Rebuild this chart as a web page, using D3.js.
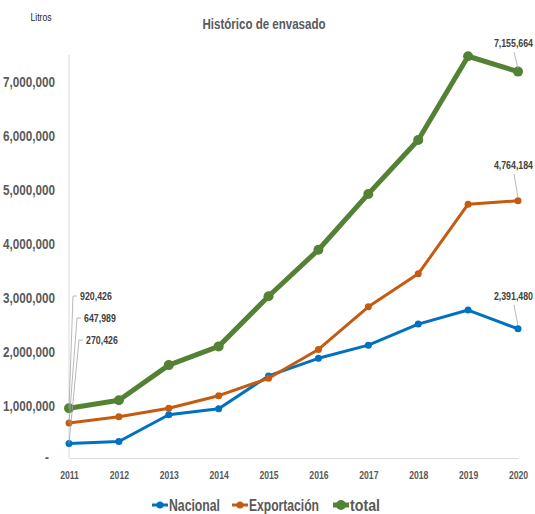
<!DOCTYPE html>
<head>
    <meta charset="utf-8">
    <title>Histórico de envasado</title>
    <script src="https://cdn.jsdelivr.net/npm/d3@7"></script>
    <style>
        body { margin: 0; background: #fff; }
        svg { display: block; font-family: "Liberation Sans", Arial, sans-serif; }
        .tick text { fill: #595959; font-weight: bold; }
    </style>
</head>
<body>
    <svg id="chart"></svg>
    <script>
        // data
        let years = [2011, 2012, 2013, 2014, 2015, 2016, 2017, 2018, 2019, 2020];
        let nacional = [270426, 305000, 800000, 913000, 1520000, 1846000, 2090000, 2480000, 2740000, 2391480];
        let exportacion = [647989, 765000, 920000, 1154000, 1476000, 2010000, 2800000, 3410000, 4700000, 4764184];
        let total = [920426, 1070000, 1720000, 2067000, 2996000, 3856000, 4890000, 5890000, 7440000, 7155664];
        let yTicks = [0, 1000000, 2000000, 3000000, 4000000, 5000000, 6000000, 7000000];

        let W = 535, H = 514;
        let svg = d3.select("#chart").attr("width", W).attr("height", H);

        let x = d3.scalePoint().domain(years).range([69, 518]);
        let y = d3.scaleLinear().domain([0, 7000000]).range([458, 80]);

        let fmt = d3.format(",");

        // narrow the Arial-like glyphs to the width of the original condensed font
        function squeeze(sel, k) {
            sel.each(function() {
                let w = this.getComputedTextLength();
                d3.select(this).attr("textLength", w * k).attr("lengthAdjust", "spacingAndGlyphs");
            });
        }

        // axes
        let yAxis = svg.append("g")
            .attr("transform", "translate(69,0)")
            .call(d3.axisLeft(y).tickValues(yTicks).tickSize(0).tickPadding(14)
                .tickFormat(d => d === 0 ? "-" : fmt(d)));
        yAxis.select(".domain").remove();
        yAxis.selectAll("text").style("font-size", "15px").attr("dy", "0.4em");
        yAxis.selectAll(".tick").filter(d => d === 0).select("text").attr("x", -20).attr("dy", "0.2em");
        squeeze(yAxis.selectAll("text"), 0.78);
        svg.append("line")
            .attr("x1", 69).attr("x2", 69).attr("y1", 55).attr("y2", 458)
            .style("stroke", "#d9d9d9");

        let xAxis = svg.append("g")
            .attr("transform", "translate(0,458)")
            .call(d3.axisBottom(x).tickSize(0).tickPadding(13));
        xAxis.select(".domain").style("stroke", "#d9d9d9");
        xAxis.selectAll("text").style("font-size", "11.5px");
        squeeze(xAxis.selectAll("text"), 0.75);

        // title
        svg.append("text")
            .attr("x", 264).attr("y", 29)
            .attr("text-anchor", "middle")
            .attr("textLength", 123).attr("lengthAdjust", "spacingAndGlyphs")
            .style("font-size", "14.5px")
            .style("fill", "#595959")
            .style("font-weight", "bold")
            .text("Histórico de envasado");
        svg.append("text")
            .attr("x", 41).attr("y", 21)
            .attr("text-anchor", "middle")
            .attr("textLength", 21).attr("lengthAdjust", "spacingAndGlyphs")
            .style("font-size", "11px")
            .style("fill", "#262626")
            .text("Litros");

        let series = [
            { name: "Nacional", values: nacional, color: "#0070C0", w: 3, r: 3.5 },
            { name: "Exportación", values: exportacion, color: "#C55A11", w: 3, r: 3.5 },
            { name: "total", values: total, color: "#548235", w: 5, r: 5 }
        ];

        let line = d3.line().x((d, i) => x(years[i])).y(d => y(d));

        series.forEach(s => {
            svg.append("path")
                .attr("d", line(s.values))
                .style("fill", "none")
                .style("stroke", s.color)
                .style("stroke-width", s.w)
                .style("stroke-linejoin", "round");
            svg.append("g").selectAll("circle")
                .data(s.values)
                .enter()
                .append("circle")
                .attr("cx", (d, i) => x(years[i]))
                .attr("cy", d => y(d))
                .attr("r", s.r)
                .style("fill", s.color);
        });

        // data labels with leader lines
        let leftLabels = [
            { v: total[0], ly: 300, lx: 80 },
            { v: exportacion[0], ly: 322, lx: 84 },
            { v: nacional[0], ly: 344, lx: 86 }
        ];
        leftLabels.forEach(l => {
            svg.append("polyline")
                .attr("points", [[l.lx - 3, l.ly - 4], [l.lx - 7, l.ly - 4], [x(years[0]), y(l.v)]].join(" "))
                .style("fill", "none").style("stroke", "#a6a6a6").style("stroke-width", 0.8);
            let t = svg.append("text")
                .attr("x", l.lx).attr("y", l.ly)
                .style("font-size", "11px").style("font-weight", "bold").style("fill", "#404040")
                .text(fmt(l.v));
            squeeze(t, 0.8);
        });

        let last = years.length - 1;
        let rightLabels = [
            { v: total[last], ly: 47 },
            { v: exportacion[last], ly: 169 },
            { v: nacional[last], ly: 300 }
        ];
        rightLabels.forEach(l => {
            svg.append("line")
                .attr("x1", 514).attr("y1", l.ly + 5)
                .attr("x2", x(years[last])).attr("y2", y(l.v) - 3)
                .style("stroke", "#a6a6a6").style("stroke-width", 0.8);
            svg.append("g")
                .attr("transform", "translate(533," + l.ly + ") scale(0.8,1)")
                .append("text")
                .attr("text-anchor", "end")
                .style("font-size", "11px").style("font-weight", "bold").style("fill", "#404040")
                .text(fmt(l.v));
        });

        // legend
        let legendX = [152, 232, 333];
        let legendW = [51, 70, 30];
        let legend = svg.append("g");
        series.forEach((s, i) => {
            let g = legend.append("g").attr("transform", "translate(" + legendX[i] + ",505)");
            g.append("line").attr("x1", 0).attr("x2", 16).attr("y1", 0).attr("y2", 0)
                .style("stroke", s.color).style("stroke-width", s.w);
            g.append("circle").attr("cx", 8).attr("cy", 0).attr("r", s.r).style("fill", s.color);
            g.append("text").attr("x", 17).attr("y", 6)
                .attr("textLength", legendW[i]).attr("lengthAdjust", "spacingAndGlyphs")
                .style("font-size", "16px").style("fill", "#595959").style("font-weight", "bold")
                .text(s.name);
        });
    </script>
</body>
